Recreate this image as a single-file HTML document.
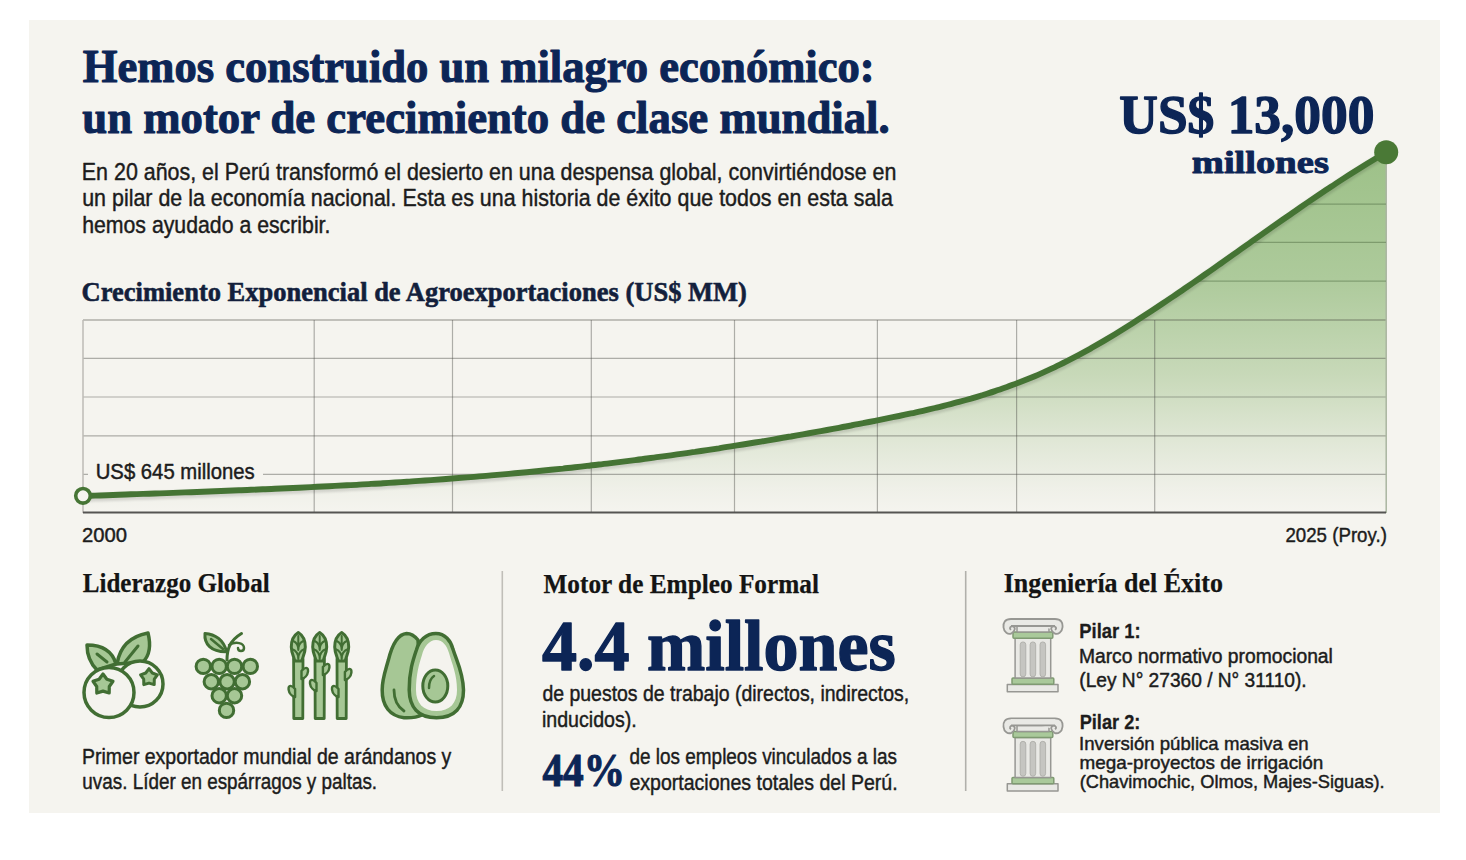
<!DOCTYPE html>
<html><head><meta charset="utf-8"><style>
html,body{margin:0;padding:0;background:#ffffff;}
body{width:1466px;height:860px;overflow:hidden;position:relative;font-family:"Liberation Sans",sans-serif;}
svg{position:absolute;left:0;top:0;}
</style></head><body>
<svg width="1466" height="860" viewBox="0 0 1466 860">
<defs>
 <linearGradient id="gf" gradientUnits="userSpaceOnUse" x1="0" y1="152" x2="0" y2="513">
  <stop offset="0" stop-color="#9dc188"/>
  <stop offset="0.35" stop-color="#adca9b"/>
  <stop offset="0.62" stop-color="#c8d9b9"/>
  <stop offset="0.8" stop-color="#e0e7d6"/>
  <stop offset="0.93" stop-color="#eff0e8"/>
  <stop offset="1" stop-color="#f5f4ef"/>
 </linearGradient>
 <clipPath id="fc"><path d="M83.0 496.0 C85.0 495.9 91.0 495.7 95.0 495.6 C99.0 495.4 103.0 495.3 107.0 495.2 C111.0 495.0 115.0 494.9 119.0 494.7 C123.0 494.6 127.0 494.5 131.0 494.3 C135.0 494.2 139.0 494.0 143.0 493.9 C147.0 493.8 151.0 493.6 155.0 493.5 C159.0 493.3 163.0 493.2 167.0 493.1 C171.0 492.9 175.0 492.8 179.0 492.6 C183.0 492.5 187.0 492.3 191.0 492.2 C195.0 492.0 199.0 491.9 203.0 491.7 C207.0 491.6 211.0 491.4 215.0 491.3 C219.0 491.1 223.0 491.0 227.0 490.8 C231.0 490.6 235.0 490.5 239.0 490.3 C243.0 490.2 247.0 490.0 251.0 489.8 C255.0 489.7 259.0 489.5 263.0 489.3 C267.0 489.2 271.0 489.0 275.0 488.8 C279.0 488.6 283.0 488.5 287.0 488.3 C291.0 488.1 295.0 487.9 299.0 487.7 C303.0 487.5 307.0 487.3 311.0 487.1 C315.0 486.9 319.0 486.7 323.0 486.5 C327.0 486.3 331.0 486.1 335.0 485.9 C339.0 485.7 343.0 485.5 347.0 485.3 C351.0 485.1 355.0 484.9 359.0 484.6 C363.0 484.4 367.0 484.2 371.0 483.9 C375.0 483.7 379.0 483.5 383.0 483.2 C387.0 483.0 391.0 482.7 395.0 482.5 C399.0 482.2 403.0 482.0 407.0 481.7 C411.0 481.5 415.0 481.2 419.0 480.9 C423.0 480.6 427.0 480.4 431.0 480.1 C435.0 479.8 439.0 479.5 443.0 479.2 C447.0 478.9 451.0 478.6 455.0 478.3 C459.0 478.0 463.0 477.7 467.0 477.4 C471.0 477.1 475.0 476.8 479.0 476.4 C483.0 476.1 487.0 475.8 491.0 475.4 C495.0 475.1 499.0 474.7 503.0 474.4 C507.0 474.0 511.0 473.7 515.0 473.3 C519.0 472.9 523.0 472.6 527.0 472.2 C531.0 471.8 535.0 471.4 539.0 471.0 C543.0 470.6 547.0 470.2 551.0 469.8 C555.0 469.4 559.0 469.0 563.0 468.6 C567.0 468.1 571.0 467.7 575.0 467.3 C579.0 466.8 583.0 466.4 587.0 465.9 C591.0 465.5 595.0 465.0 599.0 464.5 C603.0 464.1 607.0 463.6 611.0 463.1 C615.0 462.6 619.0 462.1 623.0 461.6 C627.0 461.1 631.0 460.6 635.0 460.1 C639.0 459.6 643.0 459.1 647.0 458.5 C651.0 458.0 655.0 457.5 659.0 456.9 C663.0 456.4 667.0 455.8 671.0 455.3 C675.0 454.7 679.0 454.2 683.0 453.6 C687.0 453.0 691.0 452.4 695.0 451.9 C699.0 451.3 703.0 450.7 707.0 450.1 C711.0 449.5 715.0 448.9 719.0 448.3 C723.0 447.6 727.0 447.0 731.0 446.4 C735.0 445.8 739.0 445.1 743.0 444.5 C747.0 443.8 751.0 443.2 755.0 442.5 C759.0 441.9 763.0 441.2 767.0 440.6 C771.0 439.9 775.0 439.2 779.0 438.5 C783.0 437.8 787.0 437.1 791.0 436.5 C795.0 435.8 799.0 435.0 803.0 434.3 C807.0 433.6 811.0 432.9 815.0 432.2 C819.0 431.5 823.0 430.7 827.0 430.0 C831.0 429.3 835.0 428.5 839.0 427.8 C843.0 427.0 847.0 426.2 851.0 425.5 C855.0 424.7 859.0 423.9 863.0 423.2 C867.0 422.4 871.0 421.6 875.0 420.8 C879.0 420.0 883.0 419.2 887.0 418.4 C891.0 417.6 895.0 416.8 899.0 416.0 C903.0 415.1 907.0 414.3 911.0 413.4 C915.0 412.6 919.0 411.7 923.0 410.8 C927.0 409.9 931.0 408.9 935.0 408.0 C939.0 407.0 943.0 406.1 947.0 405.0 C951.0 404.0 955.0 403.0 959.0 401.9 C963.0 400.8 967.0 399.7 971.0 398.6 C975.0 397.4 979.0 396.2 983.0 395.0 C987.0 393.7 991.0 392.5 995.0 391.1 C999.0 389.8 1003.0 388.4 1007.0 387.0 C1011.0 385.6 1015.0 384.1 1019.0 382.6 C1023.0 381.0 1027.0 379.4 1031.0 377.8 C1035.0 376.1 1039.0 374.4 1043.0 372.6 C1047.0 370.8 1051.0 369.0 1055.0 367.1 C1059.0 365.2 1063.0 363.2 1067.0 361.2 C1071.0 359.1 1075.0 357.0 1079.0 354.9 C1083.0 352.7 1087.0 350.5 1091.0 348.3 C1095.0 346.0 1099.0 343.7 1103.0 341.4 C1107.0 339.0 1111.0 336.6 1115.0 334.2 C1119.0 331.7 1123.0 329.3 1127.0 326.8 C1131.0 324.2 1135.0 321.7 1139.0 319.1 C1143.0 316.5 1147.0 313.9 1151.0 311.3 C1155.0 308.7 1159.0 306.0 1163.0 303.3 C1167.0 300.7 1171.0 297.9 1175.0 295.2 C1179.0 292.5 1183.0 289.8 1187.0 287.0 C1191.0 284.2 1195.0 281.5 1199.0 278.7 C1203.0 275.9 1207.0 273.1 1211.0 270.3 C1215.0 267.5 1219.0 264.7 1223.0 261.8 C1227.0 259.0 1231.0 256.2 1235.0 253.4 C1239.0 250.5 1243.0 247.7 1247.0 244.9 C1251.0 242.0 1255.0 239.2 1259.0 236.4 C1263.0 233.6 1267.0 230.7 1271.0 227.9 C1275.0 225.1 1279.0 222.3 1283.0 219.5 C1287.0 216.7 1291.0 213.9 1295.0 211.2 C1299.0 208.4 1303.0 205.7 1307.0 202.9 C1311.0 200.2 1315.0 197.5 1319.0 194.8 C1323.0 192.1 1327.0 189.4 1331.0 186.8 C1335.0 184.1 1339.0 181.5 1343.0 178.9 C1347.0 176.3 1351.0 173.8 1355.0 171.2 C1359.0 168.7 1363.0 166.2 1367.0 163.7 C1371.0 161.3 1375.8 158.4 1379.0 156.5 C1382.2 154.5 1385.0 152.9 1386.2 152.2 L1386 513 L83 513 Z"/></clipPath>
 <filter id="sh" x="-5%" y="-5%" width="110%" height="120%"><feGaussianBlur stdDeviation="1.2"/></filter>
</defs>
<rect x="29" y="20" width="1411" height="793" fill="#f5f4ef"/>
<path d="M83.0 496.0 C85.0 495.9 91.0 495.7 95.0 495.6 C99.0 495.4 103.0 495.3 107.0 495.2 C111.0 495.0 115.0 494.9 119.0 494.7 C123.0 494.6 127.0 494.5 131.0 494.3 C135.0 494.2 139.0 494.0 143.0 493.9 C147.0 493.8 151.0 493.6 155.0 493.5 C159.0 493.3 163.0 493.2 167.0 493.1 C171.0 492.9 175.0 492.8 179.0 492.6 C183.0 492.5 187.0 492.3 191.0 492.2 C195.0 492.0 199.0 491.9 203.0 491.7 C207.0 491.6 211.0 491.4 215.0 491.3 C219.0 491.1 223.0 491.0 227.0 490.8 C231.0 490.6 235.0 490.5 239.0 490.3 C243.0 490.2 247.0 490.0 251.0 489.8 C255.0 489.7 259.0 489.5 263.0 489.3 C267.0 489.2 271.0 489.0 275.0 488.8 C279.0 488.6 283.0 488.5 287.0 488.3 C291.0 488.1 295.0 487.9 299.0 487.7 C303.0 487.5 307.0 487.3 311.0 487.1 C315.0 486.9 319.0 486.7 323.0 486.5 C327.0 486.3 331.0 486.1 335.0 485.9 C339.0 485.7 343.0 485.5 347.0 485.3 C351.0 485.1 355.0 484.9 359.0 484.6 C363.0 484.4 367.0 484.2 371.0 483.9 C375.0 483.7 379.0 483.5 383.0 483.2 C387.0 483.0 391.0 482.7 395.0 482.5 C399.0 482.2 403.0 482.0 407.0 481.7 C411.0 481.5 415.0 481.2 419.0 480.9 C423.0 480.6 427.0 480.4 431.0 480.1 C435.0 479.8 439.0 479.5 443.0 479.2 C447.0 478.9 451.0 478.6 455.0 478.3 C459.0 478.0 463.0 477.7 467.0 477.4 C471.0 477.1 475.0 476.8 479.0 476.4 C483.0 476.1 487.0 475.8 491.0 475.4 C495.0 475.1 499.0 474.7 503.0 474.4 C507.0 474.0 511.0 473.7 515.0 473.3 C519.0 472.9 523.0 472.6 527.0 472.2 C531.0 471.8 535.0 471.4 539.0 471.0 C543.0 470.6 547.0 470.2 551.0 469.8 C555.0 469.4 559.0 469.0 563.0 468.6 C567.0 468.1 571.0 467.7 575.0 467.3 C579.0 466.8 583.0 466.4 587.0 465.9 C591.0 465.5 595.0 465.0 599.0 464.5 C603.0 464.1 607.0 463.6 611.0 463.1 C615.0 462.6 619.0 462.1 623.0 461.6 C627.0 461.1 631.0 460.6 635.0 460.1 C639.0 459.6 643.0 459.1 647.0 458.5 C651.0 458.0 655.0 457.5 659.0 456.9 C663.0 456.4 667.0 455.8 671.0 455.3 C675.0 454.7 679.0 454.2 683.0 453.6 C687.0 453.0 691.0 452.4 695.0 451.9 C699.0 451.3 703.0 450.7 707.0 450.1 C711.0 449.5 715.0 448.9 719.0 448.3 C723.0 447.6 727.0 447.0 731.0 446.4 C735.0 445.8 739.0 445.1 743.0 444.5 C747.0 443.8 751.0 443.2 755.0 442.5 C759.0 441.9 763.0 441.2 767.0 440.6 C771.0 439.9 775.0 439.2 779.0 438.5 C783.0 437.8 787.0 437.1 791.0 436.5 C795.0 435.8 799.0 435.0 803.0 434.3 C807.0 433.6 811.0 432.9 815.0 432.2 C819.0 431.5 823.0 430.7 827.0 430.0 C831.0 429.3 835.0 428.5 839.0 427.8 C843.0 427.0 847.0 426.2 851.0 425.5 C855.0 424.7 859.0 423.9 863.0 423.2 C867.0 422.4 871.0 421.6 875.0 420.8 C879.0 420.0 883.0 419.2 887.0 418.4 C891.0 417.6 895.0 416.8 899.0 416.0 C903.0 415.1 907.0 414.3 911.0 413.4 C915.0 412.6 919.0 411.7 923.0 410.8 C927.0 409.9 931.0 408.9 935.0 408.0 C939.0 407.0 943.0 406.1 947.0 405.0 C951.0 404.0 955.0 403.0 959.0 401.9 C963.0 400.8 967.0 399.7 971.0 398.6 C975.0 397.4 979.0 396.2 983.0 395.0 C987.0 393.7 991.0 392.5 995.0 391.1 C999.0 389.8 1003.0 388.4 1007.0 387.0 C1011.0 385.6 1015.0 384.1 1019.0 382.6 C1023.0 381.0 1027.0 379.4 1031.0 377.8 C1035.0 376.1 1039.0 374.4 1043.0 372.6 C1047.0 370.8 1051.0 369.0 1055.0 367.1 C1059.0 365.2 1063.0 363.2 1067.0 361.2 C1071.0 359.1 1075.0 357.0 1079.0 354.9 C1083.0 352.7 1087.0 350.5 1091.0 348.3 C1095.0 346.0 1099.0 343.7 1103.0 341.4 C1107.0 339.0 1111.0 336.6 1115.0 334.2 C1119.0 331.7 1123.0 329.3 1127.0 326.8 C1131.0 324.2 1135.0 321.7 1139.0 319.1 C1143.0 316.5 1147.0 313.9 1151.0 311.3 C1155.0 308.7 1159.0 306.0 1163.0 303.3 C1167.0 300.7 1171.0 297.9 1175.0 295.2 C1179.0 292.5 1183.0 289.8 1187.0 287.0 C1191.0 284.2 1195.0 281.5 1199.0 278.7 C1203.0 275.9 1207.0 273.1 1211.0 270.3 C1215.0 267.5 1219.0 264.7 1223.0 261.8 C1227.0 259.0 1231.0 256.2 1235.0 253.4 C1239.0 250.5 1243.0 247.7 1247.0 244.9 C1251.0 242.0 1255.0 239.2 1259.0 236.4 C1263.0 233.6 1267.0 230.7 1271.0 227.9 C1275.0 225.1 1279.0 222.3 1283.0 219.5 C1287.0 216.7 1291.0 213.9 1295.0 211.2 C1299.0 208.4 1303.0 205.7 1307.0 202.9 C1311.0 200.2 1315.0 197.5 1319.0 194.8 C1323.0 192.1 1327.0 189.4 1331.0 186.8 C1335.0 184.1 1339.0 181.5 1343.0 178.9 C1347.0 176.3 1351.0 173.8 1355.0 171.2 C1359.0 168.7 1363.0 166.2 1367.0 163.7 C1371.0 161.3 1375.8 158.4 1379.0 156.5 C1382.2 154.5 1385.0 152.9 1386.2 152.2 L1386 513 L83 513 Z" fill="url(#gf)"/>
<line x1="83" y1="320" x2="1386" y2="320" stroke="#4a4a40" stroke-opacity="0.3" stroke-width="2"/>
<line x1="83" y1="358.3" x2="1386" y2="358.3" stroke="#4a4a44" stroke-opacity="0.42" stroke-width="1.2"/>
<line x1="83" y1="397.0" x2="1386" y2="397.0" stroke="#4a4a44" stroke-opacity="0.42" stroke-width="1.2"/>
<line x1="83" y1="435.8" x2="1386" y2="435.8" stroke="#4a4a44" stroke-opacity="0.42" stroke-width="1.2"/>
<line x1="83" y1="474.3" x2="1386" y2="474.3" stroke="#4a4a44" stroke-opacity="0.42" stroke-width="1.2"/>
<line x1="314.2" y1="320" x2="314.2" y2="513" stroke="#4a4a44" stroke-opacity="0.42" stroke-width="1.2"/>
<line x1="452.5" y1="320" x2="452.5" y2="513" stroke="#4a4a44" stroke-opacity="0.42" stroke-width="1.2"/>
<line x1="591.3" y1="320" x2="591.3" y2="513" stroke="#4a4a44" stroke-opacity="0.42" stroke-width="1.2"/>
<line x1="734.5" y1="320" x2="734.5" y2="513" stroke="#4a4a44" stroke-opacity="0.42" stroke-width="1.2"/>
<line x1="877.4" y1="320" x2="877.4" y2="513" stroke="#4a4a44" stroke-opacity="0.42" stroke-width="1.2"/>
<line x1="1016.6" y1="320" x2="1016.6" y2="513" stroke="#4a4a44" stroke-opacity="0.42" stroke-width="1.2"/>
<line x1="1154.7" y1="320" x2="1154.7" y2="513" stroke="#4a4a44" stroke-opacity="0.42" stroke-width="1.2"/>
<line x1="83" y1="320" x2="83" y2="513" stroke="#bdbbb6" stroke-width="1.5"/>
<line x1="1386.2" y1="152" x2="1386.2" y2="513" stroke="#a9b5a0" stroke-width="1.5"/>
<g clip-path="url(#fc)"><line x1="83" y1="204.1" x2="1386" y2="204.1" stroke="#3f5a33" stroke-opacity="0.4" stroke-width="1.2"/><line x1="83" y1="242.3" x2="1386" y2="242.3" stroke="#3f5a33" stroke-opacity="0.4" stroke-width="1.2"/><line x1="83" y1="281.2" x2="1386" y2="281.2" stroke="#3f5a33" stroke-opacity="0.4" stroke-width="1.2"/></g>
<line x1="83" y1="512.5" x2="1386" y2="512.5" stroke="#555452" stroke-width="2.2"/>
<rect x="88" y="460" width="175" height="26" fill="#f5f4ef"/>
<path d="M83.0 496.0 C85.0 495.9 91.0 495.7 95.0 495.6 C99.0 495.4 103.0 495.3 107.0 495.2 C111.0 495.0 115.0 494.9 119.0 494.7 C123.0 494.6 127.0 494.5 131.0 494.3 C135.0 494.2 139.0 494.0 143.0 493.9 C147.0 493.8 151.0 493.6 155.0 493.5 C159.0 493.3 163.0 493.2 167.0 493.1 C171.0 492.9 175.0 492.8 179.0 492.6 C183.0 492.5 187.0 492.3 191.0 492.2 C195.0 492.0 199.0 491.9 203.0 491.7 C207.0 491.6 211.0 491.4 215.0 491.3 C219.0 491.1 223.0 491.0 227.0 490.8 C231.0 490.6 235.0 490.5 239.0 490.3 C243.0 490.2 247.0 490.0 251.0 489.8 C255.0 489.7 259.0 489.5 263.0 489.3 C267.0 489.2 271.0 489.0 275.0 488.8 C279.0 488.6 283.0 488.5 287.0 488.3 C291.0 488.1 295.0 487.9 299.0 487.7 C303.0 487.5 307.0 487.3 311.0 487.1 C315.0 486.9 319.0 486.7 323.0 486.5 C327.0 486.3 331.0 486.1 335.0 485.9 C339.0 485.7 343.0 485.5 347.0 485.3 C351.0 485.1 355.0 484.9 359.0 484.6 C363.0 484.4 367.0 484.2 371.0 483.9 C375.0 483.7 379.0 483.5 383.0 483.2 C387.0 483.0 391.0 482.7 395.0 482.5 C399.0 482.2 403.0 482.0 407.0 481.7 C411.0 481.5 415.0 481.2 419.0 480.9 C423.0 480.6 427.0 480.4 431.0 480.1 C435.0 479.8 439.0 479.5 443.0 479.2 C447.0 478.9 451.0 478.6 455.0 478.3 C459.0 478.0 463.0 477.7 467.0 477.4 C471.0 477.1 475.0 476.8 479.0 476.4 C483.0 476.1 487.0 475.8 491.0 475.4 C495.0 475.1 499.0 474.7 503.0 474.4 C507.0 474.0 511.0 473.7 515.0 473.3 C519.0 472.9 523.0 472.6 527.0 472.2 C531.0 471.8 535.0 471.4 539.0 471.0 C543.0 470.6 547.0 470.2 551.0 469.8 C555.0 469.4 559.0 469.0 563.0 468.6 C567.0 468.1 571.0 467.7 575.0 467.3 C579.0 466.8 583.0 466.4 587.0 465.9 C591.0 465.5 595.0 465.0 599.0 464.5 C603.0 464.1 607.0 463.6 611.0 463.1 C615.0 462.6 619.0 462.1 623.0 461.6 C627.0 461.1 631.0 460.6 635.0 460.1 C639.0 459.6 643.0 459.1 647.0 458.5 C651.0 458.0 655.0 457.5 659.0 456.9 C663.0 456.4 667.0 455.8 671.0 455.3 C675.0 454.7 679.0 454.2 683.0 453.6 C687.0 453.0 691.0 452.4 695.0 451.9 C699.0 451.3 703.0 450.7 707.0 450.1 C711.0 449.5 715.0 448.9 719.0 448.3 C723.0 447.6 727.0 447.0 731.0 446.4 C735.0 445.8 739.0 445.1 743.0 444.5 C747.0 443.8 751.0 443.2 755.0 442.5 C759.0 441.9 763.0 441.2 767.0 440.6 C771.0 439.9 775.0 439.2 779.0 438.5 C783.0 437.8 787.0 437.1 791.0 436.5 C795.0 435.8 799.0 435.0 803.0 434.3 C807.0 433.6 811.0 432.9 815.0 432.2 C819.0 431.5 823.0 430.7 827.0 430.0 C831.0 429.3 835.0 428.5 839.0 427.8 C843.0 427.0 847.0 426.2 851.0 425.5 C855.0 424.7 859.0 423.9 863.0 423.2 C867.0 422.4 871.0 421.6 875.0 420.8 C879.0 420.0 883.0 419.2 887.0 418.4 C891.0 417.6 895.0 416.8 899.0 416.0 C903.0 415.1 907.0 414.3 911.0 413.4 C915.0 412.6 919.0 411.7 923.0 410.8 C927.0 409.9 931.0 408.9 935.0 408.0 C939.0 407.0 943.0 406.1 947.0 405.0 C951.0 404.0 955.0 403.0 959.0 401.9 C963.0 400.8 967.0 399.7 971.0 398.6 C975.0 397.4 979.0 396.2 983.0 395.0 C987.0 393.7 991.0 392.5 995.0 391.1 C999.0 389.8 1003.0 388.4 1007.0 387.0 C1011.0 385.6 1015.0 384.1 1019.0 382.6 C1023.0 381.0 1027.0 379.4 1031.0 377.8 C1035.0 376.1 1039.0 374.4 1043.0 372.6 C1047.0 370.8 1051.0 369.0 1055.0 367.1 C1059.0 365.2 1063.0 363.2 1067.0 361.2 C1071.0 359.1 1075.0 357.0 1079.0 354.9 C1083.0 352.7 1087.0 350.5 1091.0 348.3 C1095.0 346.0 1099.0 343.7 1103.0 341.4 C1107.0 339.0 1111.0 336.6 1115.0 334.2 C1119.0 331.7 1123.0 329.3 1127.0 326.8 C1131.0 324.2 1135.0 321.7 1139.0 319.1 C1143.0 316.5 1147.0 313.9 1151.0 311.3 C1155.0 308.7 1159.0 306.0 1163.0 303.3 C1167.0 300.7 1171.0 297.9 1175.0 295.2 C1179.0 292.5 1183.0 289.8 1187.0 287.0 C1191.0 284.2 1195.0 281.5 1199.0 278.7 C1203.0 275.9 1207.0 273.1 1211.0 270.3 C1215.0 267.5 1219.0 264.7 1223.0 261.8 C1227.0 259.0 1231.0 256.2 1235.0 253.4 C1239.0 250.5 1243.0 247.7 1247.0 244.9 C1251.0 242.0 1255.0 239.2 1259.0 236.4 C1263.0 233.6 1267.0 230.7 1271.0 227.9 C1275.0 225.1 1279.0 222.3 1283.0 219.5 C1287.0 216.7 1291.0 213.9 1295.0 211.2 C1299.0 208.4 1303.0 205.7 1307.0 202.9 C1311.0 200.2 1315.0 197.5 1319.0 194.8 C1323.0 192.1 1327.0 189.4 1331.0 186.8 C1335.0 184.1 1339.0 181.5 1343.0 178.9 C1347.0 176.3 1351.0 173.8 1355.0 171.2 C1359.0 168.7 1363.0 166.2 1367.0 163.7 C1371.0 161.3 1375.8 158.4 1379.0 156.5 C1382.2 154.5 1385.0 152.9 1386.2 152.2" fill="none" stroke="#000" stroke-opacity="0.12" stroke-width="8" transform="translate(0,2)" filter="url(#sh)"/>
<path d="M83.0 496.0 C85.0 495.9 91.0 495.7 95.0 495.6 C99.0 495.4 103.0 495.3 107.0 495.2 C111.0 495.0 115.0 494.9 119.0 494.7 C123.0 494.6 127.0 494.5 131.0 494.3 C135.0 494.2 139.0 494.0 143.0 493.9 C147.0 493.8 151.0 493.6 155.0 493.5 C159.0 493.3 163.0 493.2 167.0 493.1 C171.0 492.9 175.0 492.8 179.0 492.6 C183.0 492.5 187.0 492.3 191.0 492.2 C195.0 492.0 199.0 491.9 203.0 491.7 C207.0 491.6 211.0 491.4 215.0 491.3 C219.0 491.1 223.0 491.0 227.0 490.8 C231.0 490.6 235.0 490.5 239.0 490.3 C243.0 490.2 247.0 490.0 251.0 489.8 C255.0 489.7 259.0 489.5 263.0 489.3 C267.0 489.2 271.0 489.0 275.0 488.8 C279.0 488.6 283.0 488.5 287.0 488.3 C291.0 488.1 295.0 487.9 299.0 487.7 C303.0 487.5 307.0 487.3 311.0 487.1 C315.0 486.9 319.0 486.7 323.0 486.5 C327.0 486.3 331.0 486.1 335.0 485.9 C339.0 485.7 343.0 485.5 347.0 485.3 C351.0 485.1 355.0 484.9 359.0 484.6 C363.0 484.4 367.0 484.2 371.0 483.9 C375.0 483.7 379.0 483.5 383.0 483.2 C387.0 483.0 391.0 482.7 395.0 482.5 C399.0 482.2 403.0 482.0 407.0 481.7 C411.0 481.5 415.0 481.2 419.0 480.9 C423.0 480.6 427.0 480.4 431.0 480.1 C435.0 479.8 439.0 479.5 443.0 479.2 C447.0 478.9 451.0 478.6 455.0 478.3 C459.0 478.0 463.0 477.7 467.0 477.4 C471.0 477.1 475.0 476.8 479.0 476.4 C483.0 476.1 487.0 475.8 491.0 475.4 C495.0 475.1 499.0 474.7 503.0 474.4 C507.0 474.0 511.0 473.7 515.0 473.3 C519.0 472.9 523.0 472.6 527.0 472.2 C531.0 471.8 535.0 471.4 539.0 471.0 C543.0 470.6 547.0 470.2 551.0 469.8 C555.0 469.4 559.0 469.0 563.0 468.6 C567.0 468.1 571.0 467.7 575.0 467.3 C579.0 466.8 583.0 466.4 587.0 465.9 C591.0 465.5 595.0 465.0 599.0 464.5 C603.0 464.1 607.0 463.6 611.0 463.1 C615.0 462.6 619.0 462.1 623.0 461.6 C627.0 461.1 631.0 460.6 635.0 460.1 C639.0 459.6 643.0 459.1 647.0 458.5 C651.0 458.0 655.0 457.5 659.0 456.9 C663.0 456.4 667.0 455.8 671.0 455.3 C675.0 454.7 679.0 454.2 683.0 453.6 C687.0 453.0 691.0 452.4 695.0 451.9 C699.0 451.3 703.0 450.7 707.0 450.1 C711.0 449.5 715.0 448.9 719.0 448.3 C723.0 447.6 727.0 447.0 731.0 446.4 C735.0 445.8 739.0 445.1 743.0 444.5 C747.0 443.8 751.0 443.2 755.0 442.5 C759.0 441.9 763.0 441.2 767.0 440.6 C771.0 439.9 775.0 439.2 779.0 438.5 C783.0 437.8 787.0 437.1 791.0 436.5 C795.0 435.8 799.0 435.0 803.0 434.3 C807.0 433.6 811.0 432.9 815.0 432.2 C819.0 431.5 823.0 430.7 827.0 430.0 C831.0 429.3 835.0 428.5 839.0 427.8 C843.0 427.0 847.0 426.2 851.0 425.5 C855.0 424.7 859.0 423.9 863.0 423.2 C867.0 422.4 871.0 421.6 875.0 420.8 C879.0 420.0 883.0 419.2 887.0 418.4 C891.0 417.6 895.0 416.8 899.0 416.0 C903.0 415.1 907.0 414.3 911.0 413.4 C915.0 412.6 919.0 411.7 923.0 410.8 C927.0 409.9 931.0 408.9 935.0 408.0 C939.0 407.0 943.0 406.1 947.0 405.0 C951.0 404.0 955.0 403.0 959.0 401.9 C963.0 400.8 967.0 399.7 971.0 398.6 C975.0 397.4 979.0 396.2 983.0 395.0 C987.0 393.7 991.0 392.5 995.0 391.1 C999.0 389.8 1003.0 388.4 1007.0 387.0 C1011.0 385.6 1015.0 384.1 1019.0 382.6 C1023.0 381.0 1027.0 379.4 1031.0 377.8 C1035.0 376.1 1039.0 374.4 1043.0 372.6 C1047.0 370.8 1051.0 369.0 1055.0 367.1 C1059.0 365.2 1063.0 363.2 1067.0 361.2 C1071.0 359.1 1075.0 357.0 1079.0 354.9 C1083.0 352.7 1087.0 350.5 1091.0 348.3 C1095.0 346.0 1099.0 343.7 1103.0 341.4 C1107.0 339.0 1111.0 336.6 1115.0 334.2 C1119.0 331.7 1123.0 329.3 1127.0 326.8 C1131.0 324.2 1135.0 321.7 1139.0 319.1 C1143.0 316.5 1147.0 313.9 1151.0 311.3 C1155.0 308.7 1159.0 306.0 1163.0 303.3 C1167.0 300.7 1171.0 297.9 1175.0 295.2 C1179.0 292.5 1183.0 289.8 1187.0 287.0 C1191.0 284.2 1195.0 281.5 1199.0 278.7 C1203.0 275.9 1207.0 273.1 1211.0 270.3 C1215.0 267.5 1219.0 264.7 1223.0 261.8 C1227.0 259.0 1231.0 256.2 1235.0 253.4 C1239.0 250.5 1243.0 247.7 1247.0 244.9 C1251.0 242.0 1255.0 239.2 1259.0 236.4 C1263.0 233.6 1267.0 230.7 1271.0 227.9 C1275.0 225.1 1279.0 222.3 1283.0 219.5 C1287.0 216.7 1291.0 213.9 1295.0 211.2 C1299.0 208.4 1303.0 205.7 1307.0 202.9 C1311.0 200.2 1315.0 197.5 1319.0 194.8 C1323.0 192.1 1327.0 189.4 1331.0 186.8 C1335.0 184.1 1339.0 181.5 1343.0 178.9 C1347.0 176.3 1351.0 173.8 1355.0 171.2 C1359.0 168.7 1363.0 166.2 1367.0 163.7 C1371.0 161.3 1375.8 158.4 1379.0 156.5 C1382.2 154.5 1385.0 152.9 1386.2 152.2" fill="none" stroke="#457434" stroke-width="5.9" stroke-linecap="round"/>
<circle cx="83" cy="495.8" r="7.3" fill="#f5f4ef" stroke="#467535" stroke-width="3.6"/>
<circle cx="1386.2" cy="152.3" r="12" fill="#4a7936"/>
<line x1="502.3" y1="571" x2="502.3" y2="791" stroke="#c0beb8" stroke-width="1.6"/>
<line x1="965.7" y1="571" x2="965.7" y2="791" stroke="#b1b0ab" stroke-width="1.6"/>

<g stroke="#416e33" stroke-width="3.5" stroke-linejoin="round" stroke-linecap="round">
 <!-- blueberries -->
 <path d="M116 664 C112 650 100 645 87 645 C87 655 90 663 97 670 Z" fill="#a6c795"/>
 <path d="M117 664 C120 645 132 636 148 633 C151 645 150 655 143 662 Z" fill="#a6c795"/>
 <path d="M97 654 L107 662" fill="none" stroke-width="3"/>
 <path d="M138 646 L125 662" fill="none" stroke-width="3"/>
 <circle cx="140" cy="684" r="23" fill="#f4f3ee"/>
 <circle cx="109" cy="692.5" r="25" fill="#f4f3ee"/>
 <path d="M103.0 674.0 L106.9 679.2 L113.0 681.3 L109.3 686.5 L109.2 693.0 L103.0 691.1 L96.8 693.0 L96.7 686.5 L93.0 681.3 L99.1 679.2 Z" fill="#a6c795" stroke-width="3.2"/>
 <path d="M149.0 668.7 L152.3 673.0 L157.4 674.8 L154.3 679.2 L154.2 684.6 L149.0 683.1 L143.8 684.6 L143.7 679.2 L140.6 674.8 L145.7 673.0 Z" fill="#a6c795" stroke-width="3"/>
 <!-- grapes -->
 <path d="M226.5 651.7 C224 640 215 634 205 633.4 C204 644 211 652 226.5 651.7 Z" fill="#a6c795" stroke-width="3"/>
 <path d="M211 639 L223 649" fill="none" stroke-width="2.5"/>
 <path d="M227 660 C227 650 229 641 241.5 633.5" fill="none" stroke-width="3"/>
 <path d="M229 645 C236 641 244 643 244 648 C244 652 238 652 238 648" fill="none" stroke-width="2.5"/>
 <g fill="#a6c795" stroke-width="3">
  <circle cx="226.5" cy="710.4" r="7.2"/>
  <circle cx="219.2" cy="695.7" r="7.2"/><circle cx="234.5" cy="695.7" r="7.2"/>
  <circle cx="211.3" cy="681.7" r="7.2"/><circle cx="227.1" cy="681.7" r="7.2"/><circle cx="242.4" cy="681.7" r="7.2"/>
  <circle cx="203.3" cy="666.4" r="7.2"/><circle cx="219.2" cy="666.4" r="7.2"/><circle cx="234.5" cy="666.4" r="7.2"/><circle cx="250.3" cy="666.4" r="7.2"/>
 </g>
 <!-- asparagus -->
 <path d="M293.6 659 L293.8 718.5 L302.8 718.5 L303.0 659 Z" fill="#a6c795" stroke-width="2.8"/>
 <path d="M301.5 671.0 c3.5 -4.5 7 -4 6.5 0.5 c-0.5 4 -3.5 7 -6.5 7.5 Z" fill="#a6c795" stroke-width="2.4"/>
 <path d="M295.1 689.0 c-3.5 -4.5 -7 -4 -6.5 0.5 c0.5 4 3.5 7 6.5 7.5 Z" fill="#a6c795" stroke-width="2.4"/>
 <path d="M298.3 632.5 C302.3 635 305.3 640 305.3 647 C305.3 653 302.3 658 301.8 661 L294.8 661 C294.3 658 291.3 653 291.3 647 C291.3 640 294.3 635 298.3 632.5 Z" fill="#a6c795" stroke-width="3"/>
 <path d="M298.3 636 L298.3 643 M293.3 641 Q298.3 643 298.3 650 Q298.3 643 303.3 641 M291.8 649 Q298.3 651 298.3 659 Q298.3 651 304.8 649" fill="none" stroke-width="2"/>
 <path d="M315.0 659 L315.2 718.5 L324.2 718.5 L324.4 659 Z" fill="#a6c795" stroke-width="2.8"/>
 <path d="M322.9 667.0 c3.5 -4.5 7 -4 6.5 0.5 c-0.5 4 -3.5 7 -6.5 7.5 Z" fill="#a6c795" stroke-width="2.4"/>
 <path d="M316.5 683.0 c-3.5 -4.5 -7 -4 -6.5 0.5 c0.5 4 3.5 7 6.5 7.5 Z" fill="#a6c795" stroke-width="2.4"/>
 <path d="M319.7 632.5 C323.7 635 326.7 640 326.7 647 C326.7 653 323.7 658 323.2 661 L316.2 661 C315.7 658 312.7 653 312.7 647 C312.7 640 315.7 635 319.7 632.5 Z" fill="#a6c795" stroke-width="3"/>
 <path d="M319.7 636 L319.7 643 M314.7 641 Q319.7 643 319.7 650 Q319.7 643 324.7 641 M313.2 649 Q319.7 651 319.7 659 Q319.7 651 326.2 649" fill="none" stroke-width="2"/>
 <path d="M337.0 659 L337.2 718.5 L346.2 718.5 L346.4 659 Z" fill="#a6c795" stroke-width="2.8"/>
 <path d="M344.9 672.0 c3.5 -4.5 7 -4 6.5 0.5 c-0.5 4 -3.5 7 -6.5 7.5 Z" fill="#a6c795" stroke-width="2.4"/>
 <path d="M338.5 689.0 c-3.5 -4.5 -7 -4 -6.5 0.5 c0.5 4 3.5 7 6.5 7.5 Z" fill="#a6c795" stroke-width="2.4"/>
 <path d="M341.7 632.5 C345.7 635 348.7 640 348.7 647 C348.7 653 345.7 658 345.2 661 L338.2 661 C337.7 658 334.7 653 334.7 647 C334.7 640 337.7 635 341.7 632.5 Z" fill="#a6c795" stroke-width="3"/>
 <path d="M341.7 636 L341.7 643 M336.7 641 Q341.7 643 341.7 650 Q341.7 643 346.7 641 M335.2 649 Q341.7 651 341.7 659 Q341.7 651 348.2 649" fill="none" stroke-width="2"/>
 <!-- avocado -->
 <path d="M406.6 633.4 C398 634 392 645 388.3 660.3 C385 672 382 680 382.2 690 C382 706 390 716 404 717.7 C412 718 418 717 422 715 L418 640 C414 635 411 633.4 406.6 633.4 Z" fill="#a6c795"/>
 <path d="M394 690 C394 700 398 707 404 711" fill="none" stroke-width="2.8"/>
 <path d="M435.9 633.4 C445 633.4 451 641 453 649.3 C457 662 463 672 463.5 690 C463.5 707 455 717.7 436.5 717.7 C418 717.7 409.5 707 409.2 690 C409 672 413 660 416.4 650 C419 641 426 633.4 435.9 633.4 Z" fill="#a6c795"/>
 <path d="M436 640 C443 640 447 646 449 653 C452 664 457 674 457 690 C457 703 450 711 436.5 711 C423 711 416 703 416 690 C416 675 419 664 422 655 C424 647 429 640 436 640 Z" fill="#f4f3ee" stroke="none"/>
 <ellipse cx="435.3" cy="686" rx="12.5" ry="16" fill="#a6c795" stroke-width="3"/>
 <path d="M429 688 C429 682 431 678 434 676" fill="none" stroke-width="2.5"/>
</g>

<g stroke-linejoin="round">
<rect x="1007.3" y="684.4" width="50.7" height="7.3" fill="#e9e9e5" stroke="#979793" stroke-width="1.5"/>
<rect x="1012" y="678.0" width="41.8" height="6.3" rx="1" fill="#a9c99a" stroke="#7f9a72" stroke-width="1.5"/>
<rect x="1015.1" y="638.2" width="35.6" height="39.8" fill="#e9e9e5" stroke="#979793" stroke-width="1.5"/>
<rect x="1020.2" y="641.9" width="5.6" height="35" rx="2.8" fill="#c5c5c1" stroke="#a9a9a5" stroke-width="0.8"/>
<rect x="1030.1" y="641.9" width="5.6" height="35" rx="2.8" fill="#c5c5c1" stroke="#a9a9a5" stroke-width="0.8"/>
<rect x="1040.0" y="641.9" width="5.6" height="35" rx="2.8" fill="#c5c5c1" stroke="#a9a9a5" stroke-width="0.8"/>
<rect x="1013" y="632.0" width="39.8" height="6.2" rx="1" fill="#a9c99a" stroke="#7f9a72" stroke-width="1.5"/>
<rect x="1017" y="626.0" width="32" height="6" fill="#e9e9e5" stroke="#979793" stroke-width="1.5"/>
<path d="M1011 619.0 L1055 619.0 C1061 619.0 1063 622.4 1062.5 627.4 C1062 632.4 1058 634.9 1054.5 633.4 C1051 631.4 1050 627.4 1053 626.4 C1056 625.9 1057 628.4 1055 629.9" fill="#e9e9e5" stroke="#979793" stroke-width="1.8"/>
<path d="M1011 619.0 C1005 619.0 1003 622.4 1003.5 627.4 C1004 632.4 1008 634.9 1011.5 633.4 C1015 631.4 1016 627.4 1013 626.4 C1010 625.9 1009 628.4 1011 629.9" fill="#e9e9e5" stroke="#979793" stroke-width="1.8"/>
<path d="M1011 619.9 L1055 619.9 L1055 626.0 L1011 626.0 Z" fill="#e9e9e5" stroke="none"/>
<line x1="1011" y1="626.0" x2="1055" y2="626.0" stroke="#979793" stroke-width="1.8"/>
</g>
<g stroke-linejoin="round">
<rect x="1007.3" y="783.8" width="50.7" height="7.3" fill="#e9e9e5" stroke="#979793" stroke-width="1.5"/>
<rect x="1012" y="777.4" width="41.8" height="6.3" rx="1" fill="#a9c99a" stroke="#7f9a72" stroke-width="1.5"/>
<rect x="1015.1" y="737.6" width="35.6" height="39.8" fill="#e9e9e5" stroke="#979793" stroke-width="1.5"/>
<rect x="1020.2" y="741.3" width="5.6" height="35" rx="2.8" fill="#c5c5c1" stroke="#a9a9a5" stroke-width="0.8"/>
<rect x="1030.1" y="741.3" width="5.6" height="35" rx="2.8" fill="#c5c5c1" stroke="#a9a9a5" stroke-width="0.8"/>
<rect x="1040.0" y="741.3" width="5.6" height="35" rx="2.8" fill="#c5c5c1" stroke="#a9a9a5" stroke-width="0.8"/>
<rect x="1013" y="731.4" width="39.8" height="6.2" rx="1" fill="#a9c99a" stroke="#7f9a72" stroke-width="1.5"/>
<rect x="1017" y="725.4" width="32" height="6" fill="#e9e9e5" stroke="#979793" stroke-width="1.5"/>
<path d="M1011 718.4 L1055 718.4 C1061 718.4 1063 721.8 1062.5 726.8 C1062 731.8 1058 734.3 1054.5 732.8 C1051 730.8 1050 726.8 1053 725.8 C1056 725.3 1057 727.8 1055 729.3" fill="#e9e9e5" stroke="#979793" stroke-width="1.8"/>
<path d="M1011 718.4 C1005 718.4 1003 721.8 1003.5 726.8 C1004 731.8 1008 734.3 1011.5 732.8 C1015 730.8 1016 726.8 1013 725.8 C1010 725.3 1009 727.8 1011 729.3" fill="#e9e9e5" stroke="#979793" stroke-width="1.8"/>
<path d="M1011 719.3 L1055 719.3 L1055 725.4 L1011 725.4 Z" fill="#e9e9e5" stroke="none"/>
<line x1="1011" y1="725.4" x2="1055" y2="725.4" stroke="#979793" stroke-width="1.8"/>
</g>
<text x="82.84" y="82.30" font-family="Liberation Serif" font-size="47" font-weight="700" fill="#0c2556" stroke="#0c2556" stroke-width="1.10" stroke-linejoin="round" textLength="791.85" lengthAdjust="spacingAndGlyphs">Hemos construido un milagro económico:</text>
<text x="82.32" y="132.80" font-family="Liberation Serif" font-size="47" font-weight="700" fill="#0c2556" stroke="#0c2556" stroke-width="1.10" stroke-linejoin="round" textLength="807.44" lengthAdjust="spacingAndGlyphs">un motor de crecimiento de clase mundial.</text>
<text x="81.84" y="179.60" font-family="Liberation Sans" font-size="24.5" font-weight="400" fill="#1c1c1c" stroke="#1c1c1c" stroke-width="0.45" stroke-linejoin="round" textLength="814.55" lengthAdjust="spacingAndGlyphs">En 20 años, el Perú transformó el desierto en una despensa global, convirtiéndose en</text>
<text x="82.21" y="206.30" font-family="Liberation Sans" font-size="24.5" font-weight="400" fill="#1c1c1c" stroke="#1c1c1c" stroke-width="0.45" stroke-linejoin="round" textLength="810.79" lengthAdjust="spacingAndGlyphs">un pilar de la economía nacional. Esta es una historia de éxito que todos en esta sala</text>
<text x="82.13" y="232.80" font-family="Liberation Sans" font-size="24.5" font-weight="400" fill="#1c1c1c" stroke="#1c1c1c" stroke-width="0.45" stroke-linejoin="round" textLength="248.32" lengthAdjust="spacingAndGlyphs">hemos ayudado a escribir.</text>
<text x="81.61" y="300.90" font-family="Liberation Serif" font-size="28" font-weight="700" fill="#131f3c" stroke="#131f3c" stroke-width="0.60" stroke-linejoin="round" textLength="665.26" lengthAdjust="spacingAndGlyphs">Crecimiento Exponencial de Agroexportaciones (US$ MM)</text>
<text x="1119.37" y="132.80" font-family="Liberation Serif" font-size="54" font-weight="700" fill="#0c2556" stroke="#0c2556" stroke-width="1.40" stroke-linejoin="round" textLength="255.06" lengthAdjust="spacingAndGlyphs">US$ 13,000</text>
<text x="1191.76" y="172.80" font-family="Liberation Serif" font-size="31" font-weight="700" fill="#0c2556" stroke="#0c2556" stroke-width="0.90" stroke-linejoin="round" textLength="137.18" lengthAdjust="spacingAndGlyphs">millones</text>
<text x="95.73" y="479.00" font-family="Liberation Sans" font-size="21.5" font-weight="400" fill="#1c1c1c" stroke="#1c1c1c" stroke-width="0.45" stroke-linejoin="round" textLength="159.00" lengthAdjust="spacingAndGlyphs">US$ 645 millones</text>
<text x="82.08" y="541.80" font-family="Liberation Sans" font-size="21" font-weight="400" fill="#1c1c1c" stroke="#1c1c1c" stroke-width="0.45" stroke-linejoin="round" textLength="45.01" lengthAdjust="spacingAndGlyphs">2000</text>
<text x="1285.46" y="541.90" font-family="Liberation Sans" font-size="21" font-weight="400" fill="#1c1c1c" stroke="#1c1c1c" stroke-width="0.45" stroke-linejoin="round" textLength="101.40" lengthAdjust="spacingAndGlyphs">2025 (Proy.)</text>
<text x="82.77" y="592.30" font-family="Liberation Serif" font-size="27.5" font-weight="700" fill="#141414" stroke="#141414" stroke-width="0.25" stroke-linejoin="round" textLength="186.96" lengthAdjust="spacingAndGlyphs">Liderazgo Global</text>
<text x="543.47" y="592.70" font-family="Liberation Serif" font-size="27.5" font-weight="700" fill="#141414" stroke="#141414" stroke-width="0.25" stroke-linejoin="round" textLength="275.46" lengthAdjust="spacingAndGlyphs">Motor de Empleo Formal</text>
<text x="1003.63" y="592.40" font-family="Liberation Serif" font-size="27.5" font-weight="700" fill="#141414" stroke="#141414" stroke-width="0.25" stroke-linejoin="round" textLength="219.26" lengthAdjust="spacingAndGlyphs">Ingeniería del Éxito</text>
<text x="82.00" y="764.00" font-family="Liberation Sans" font-size="22" font-weight="400" fill="#1c1c1c" stroke="#1c1c1c" stroke-width="0.45" stroke-linejoin="round" textLength="369.34" lengthAdjust="spacingAndGlyphs">Primer exportador mundial de arándanos y</text>
<text x="82.37" y="788.90" font-family="Liberation Sans" font-size="22" font-weight="400" fill="#1c1c1c" stroke="#1c1c1c" stroke-width="0.45" stroke-linejoin="round" textLength="294.75" lengthAdjust="spacingAndGlyphs">uvas. Líder en espárragos y paltas.</text>
<text x="542.04" y="670.00" font-family="Liberation Serif" font-size="72" font-weight="700" fill="#0c2556" stroke="#0c2556" stroke-width="1.40" stroke-linejoin="round" textLength="353.66" lengthAdjust="spacingAndGlyphs">4.4 millones</text>
<text x="542.38" y="700.90" font-family="Liberation Sans" font-size="22" font-weight="400" fill="#1c1c1c" stroke="#1c1c1c" stroke-width="0.45" stroke-linejoin="round" textLength="366.77" lengthAdjust="spacingAndGlyphs">de puestos de trabajo (directos, indirectos,</text>
<text x="541.89" y="726.60" font-family="Liberation Sans" font-size="22" font-weight="400" fill="#1c1c1c" stroke="#1c1c1c" stroke-width="0.45" stroke-linejoin="round" textLength="94.90" lengthAdjust="spacingAndGlyphs">inducidos).</text>
<text x="542.44" y="786.20" font-family="Liberation Serif" font-size="46.5" font-weight="700" fill="#0c2556" stroke="#0c2556" stroke-width="1.10" stroke-linejoin="round" textLength="82.53" lengthAdjust="spacingAndGlyphs">44%</text>
<text x="629.50" y="764.30" font-family="Liberation Sans" font-size="22" font-weight="400" fill="#1c1c1c" stroke="#1c1c1c" stroke-width="0.45" stroke-linejoin="round" textLength="267.38" lengthAdjust="spacingAndGlyphs">de los empleos vinculados a las</text>
<text x="629.47" y="789.60" font-family="Liberation Sans" font-size="22" font-weight="400" fill="#1c1c1c" stroke="#1c1c1c" stroke-width="0.45" stroke-linejoin="round" textLength="268.11" lengthAdjust="spacingAndGlyphs">exportaciones totales del Perú.</text>
<text x="1079.27" y="637.70" font-family="Liberation Sans" font-size="20.5" font-weight="700" fill="#1c1c1c" stroke="#1c1c1c" stroke-width="0.30" stroke-linejoin="round" textLength="61.30" lengthAdjust="spacingAndGlyphs">Pilar 1:</text>
<text x="1078.92" y="662.50" font-family="Liberation Sans" font-size="19.5" font-weight="400" fill="#1c1c1c" stroke="#1c1c1c" stroke-width="0.45" stroke-linejoin="round" textLength="253.97" lengthAdjust="spacingAndGlyphs">Marco normativo promocional</text>
<text x="1079.31" y="687.30" font-family="Liberation Sans" font-size="19.5" font-weight="400" fill="#1c1c1c" stroke="#1c1c1c" stroke-width="0.45" stroke-linejoin="round" textLength="227.33" lengthAdjust="spacingAndGlyphs">(Ley N° 27360 / N° 31110).</text>
<text x="1079.68" y="729.30" font-family="Liberation Sans" font-size="20.5" font-weight="700" fill="#1c1c1c" stroke="#1c1c1c" stroke-width="0.30" stroke-linejoin="round" textLength="60.67" lengthAdjust="spacingAndGlyphs">Pilar 2:</text>
<text x="1079.08" y="749.50" font-family="Liberation Sans" font-size="18.5" font-weight="400" fill="#1c1c1c" stroke="#1c1c1c" stroke-width="0.45" stroke-linejoin="round" textLength="229.63" lengthAdjust="spacingAndGlyphs">Inversión pública masiva en</text>
<text x="1079.54" y="768.70" font-family="Liberation Sans" font-size="18.5" font-weight="400" fill="#1c1c1c" stroke="#1c1c1c" stroke-width="0.45" stroke-linejoin="round" textLength="243.78" lengthAdjust="spacingAndGlyphs">mega-proyectos de irrigación</text>
<text x="1079.67" y="787.80" font-family="Liberation Sans" font-size="18.5" font-weight="400" fill="#1c1c1c" stroke="#1c1c1c" stroke-width="0.45" stroke-linejoin="round" textLength="305.00" lengthAdjust="spacingAndGlyphs">(Chavimochic, Olmos, Majes-Siguas).</text>
</svg>
</body></html>
